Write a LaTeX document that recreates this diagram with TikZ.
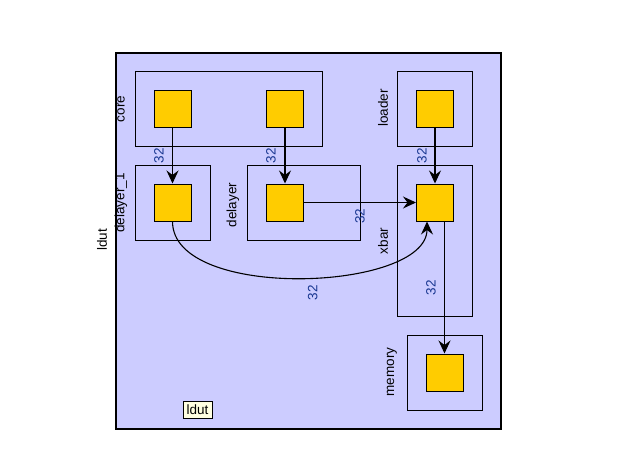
\documentclass[tikz,border=0pt]{standalone}
\usepackage{fontspec}
\setmainfont{Liberation Sans}
\usetikzlibrary{arrows.meta}
\definecolor{outerfill}{HTML}{CCCCFF}
\definecolor{sqfill}{HTML}{FFCC00}
\definecolor{lblblue}{RGB}{25,55,145}
\definecolor{tagfill}{HTML}{FFFFE0}
\begin{document}
\begin{tikzpicture}[x=1pt,y=-1pt,
  every node/.style={font=\fontsize{13.5}{16}\selectfont},
  outerbox/.style={draw=black, line width=1.4pt, fill=outerfill, minimum width=385pt, minimum height=376pt, inner sep=0pt},
  cbox/.style={draw=black, line width=1pt, inner sep=0pt},
  sq/.style={draw=black, line width=1pt, fill=sqfill, minimum width=37pt, minimum height=37pt, inner sep=0pt},
  nm/.style={rotate=90, inner sep=0pt},
  lbl/.style={rotate=90, inner sep=0pt, text=lblblue},
  conn/.style={draw=black, line width=1.1pt, -{Stealth[length=13pt,width=12pt,inset=4.5pt]}},
  tag/.style={draw=black, line width=0.8pt, fill=tagfill, minimum width=29pt, minimum height=17pt, inner sep=0pt}
]
\useasboundingbox (0,0) rectangle (621,461);
\node[outerbox] (ldut) at (308.5,241) {};
\node[nm] (ldutname) at (102,240) {ldut};
% containers
\node[cbox, minimum width=187pt, minimum height=75pt] (core) at (228.5,108.5) {};
\node[cbox, minimum width=75pt, minimum height=75pt] (loader) at (434.5,108.5) {};
\node[cbox, minimum width=75pt, minimum height=75pt] (d1) at (172.5,202.5) {};
\node[cbox, minimum width=113pt, minimum height=75pt] (dl) at (303.5,202.5) {};
\node[cbox, minimum width=75pt, minimum height=151pt] (xbar) at (434.5,240.5) {};
\node[cbox, minimum width=75pt, minimum height=75pt] (mem) at (444.5,372.5) {};
% names
\node[nm] (corename) at (121,109) {core};
\node[nm] (d1name) at (121,203) {delayer\_1};
\node[nm] (dlname) at (233,205) {delayer};
\node[nm] (loadername) at (383,108) {loader};
\node[nm] (xbarname) at (383,241) {xbar};
\node[nm] (memname) at (392,372) {memory};
% squares
\node[sq] (cl) at (172.5,109) {};
\node[sq] (cr) at (285,109) {};
\node[sq] (ls) at (435,109) {};
\node[sq] (d1s) at (172.5,202.5) {};
\node[sq] (dls) at (285,202.5) {};
\node[sq] (xs) at (435,202.5) {};
\node[sq] (ms) at (444.5,372.5) {};
\coordinate (xin) at ([xshift=-8pt]xs.south);
% connectors
\draw[conn] (cl.south) -- node[xshift=-13.5pt, lbl] (l1) {32} (d1s.north);
\draw[conn] (cr.south) -- node[xshift=-14pt, lbl] (l2) {32} (dls.north);
\draw[conn] (ls.south) -- node[xshift=-13pt, lbl] (l3) {32} (xs.north);
\draw[conn] (dls.east) -- node[yshift=-13.5pt, lbl] (l4) {32} (xs.west);
\draw[conn] (xs.south -| ms.north) -- node[xshift=-13.5pt, lbl] (l5) {32} (ms.north);
\draw[conn] (d1s.south) .. controls ([yshift=-80pt]d1s.south) and ([yshift=-70pt]xin) .. node[xshift=13pt, yshift=-15pt, lbl] (l6) {32} (xin);
\node[tag] (tagl) at (197.5,409.5) {ldut};
\end{tikzpicture}
\end{document}
